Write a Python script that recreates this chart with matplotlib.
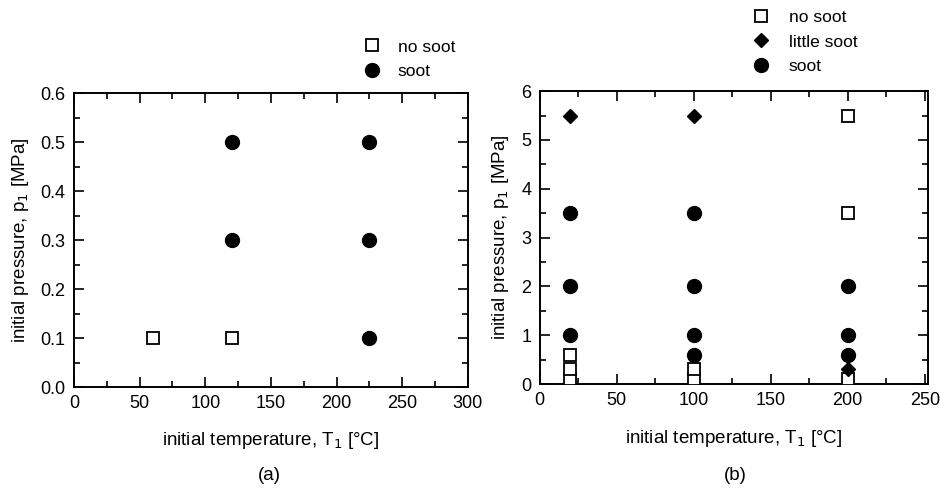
import matplotlib.pyplot as plt
from matplotlib.ticker import MultipleLocator

plt.rcParams["font.family"] = ["Liberation Sans", "DejaVu Sans"]
plt.rcParams.update({"font.size": 12})

# panel (a)
a_nosoot_T = [60, 120]
a_nosoot_p = [0.1, 0.1]
a_soot_T = [120, 120, 225, 225, 225]
a_soot_p = [0.5, 0.3, 0.5, 0.3, 0.1]

# panel (b)
b_nosoot_T = [20, 20, 20, 100, 100, 200, 200, 200]
b_nosoot_p = [0.1, 0.3, 0.6, 0.1, 0.3, 0.1, 3.5, 5.5]
b_little_T = [20, 100, 200]
b_little_p = [5.5, 5.5, 0.3]
b_soot_T = [20, 20, 20, 100, 100, 100, 100, 200, 200, 200]
b_soot_p = [3.5, 2.0, 1.0, 3.5, 2.0, 1.0, 0.6, 2.0, 1.0, 0.6]

fig = plt.figure(figsize=(9.4, 4.95), dpi=100)
ax1 = fig.add_axes([0.0787, 0.218, 0.419, 0.594])
ax2 = fig.add_axes([0.574, 0.224, 0.413, 0.592])

sq = dict(marker="s", ms=8, mfc="white", mec="black", mew=1.3, ls="none")
ci = dict(marker="o", ms=10, color="black", ls="none")
di = dict(marker="D", ms=7.5, color="black", ls="none")

ax1.plot(a_nosoot_T, a_nosoot_p, label="no soot", **sq)
ax1.plot(a_soot_T, a_soot_p, label="soot", **ci)
ax1.set_xlim(0, 300)
ax1.set_ylim(0, 0.6)
ax1.xaxis.set_major_locator(MultipleLocator(50))
ax1.xaxis.set_minor_locator(MultipleLocator(25))
ax1.yaxis.set_major_locator(MultipleLocator(0.1))
ax1.yaxis.set_minor_locator(MultipleLocator(0.05))
ax1.set_yticklabels([f"{v:.1f}" for v in ax1.get_yticks()])

ax2.plot(b_nosoot_T, b_nosoot_p, label="no soot", zorder=3, **sq)
ax2.plot(b_little_T, b_little_p, label="little soot", zorder=4, **di)
ax2.plot(b_soot_T, b_soot_p, label="soot", zorder=5, **ci)
ax2.set_xlim(0, 252)
ax2.set_ylim(0, 6)
ax2.xaxis.set_major_locator(MultipleLocator(50))
ax2.xaxis.set_minor_locator(MultipleLocator(25))
ax2.yaxis.set_major_locator(MultipleLocator(1))
ax2.yaxis.set_minor_locator(MultipleLocator(0.5))

for ax in (ax1, ax2):
    ax.tick_params(which="both", direction="in", top=True, right=True, width=1.2, labelsize=13, pad=6)
    ax.tick_params(which="major", length=7)
    ax.tick_params(which="minor", length=4)
    for s in ax.spines.values():
        s.set_linewidth(1.4)
    ax.set_xlabel("initial temperature, T$_1$ [\u00b0C]", fontsize=13.5, labelpad=13)
    ax.set_ylabel("initial pressure, p$_1$ [MPa]", fontsize=13.5, labelpad=7)

ax1.legend(loc="upper left", bbox_to_anchor=(0.364, 0.945), bbox_transform=fig.transFigure,
           frameon=False, fontsize=12.5, handletextpad=0.5, labelspacing=0.55, borderpad=0.2)
ax2.legend(loc="upper left", bbox_to_anchor=(0.778, 1.005), bbox_transform=fig.transFigure,
           frameon=False, fontsize=12.5, handletextpad=0.6, labelspacing=0.55, borderpad=0.2)

fig.text(0.287, 0.03, "(a)", ha="center", fontsize=13.5)
fig.text(0.782, 0.03, "(b)", ha="center", fontsize=13.5)

plt.savefig("out.png", dpi=100)
